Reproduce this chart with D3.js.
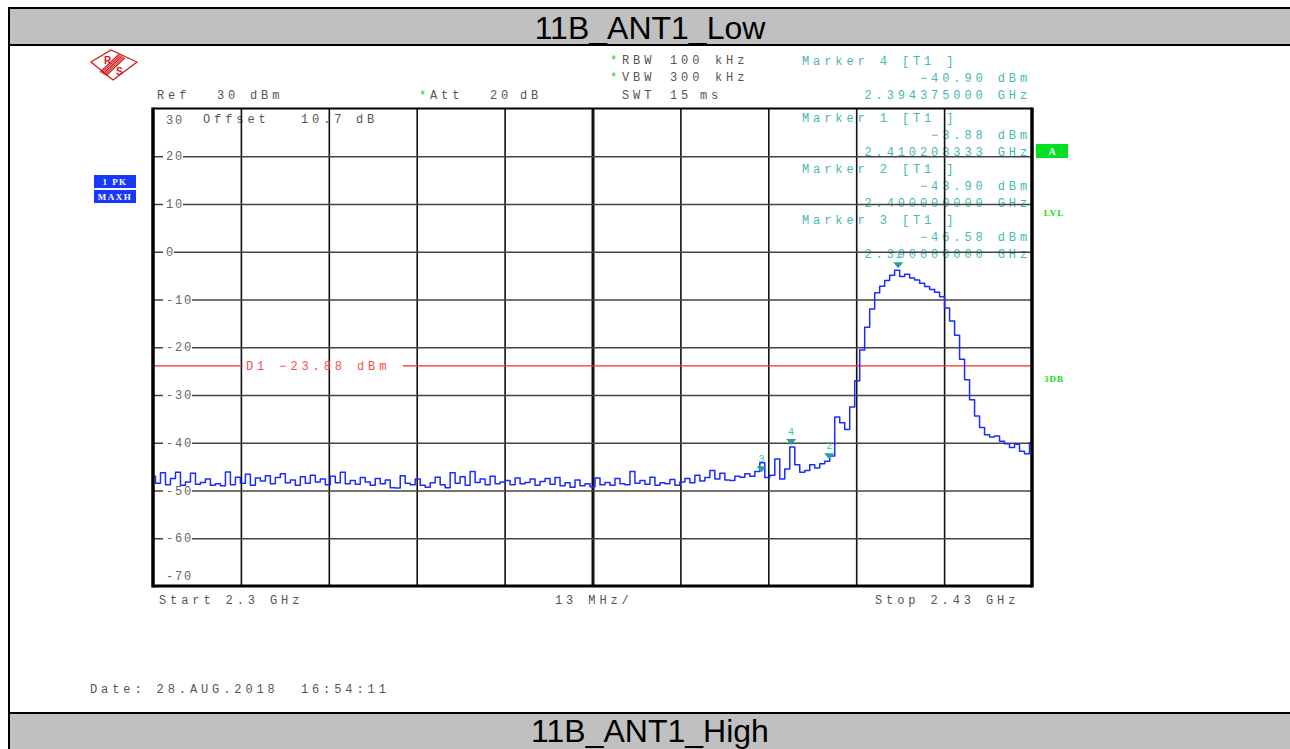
<!DOCTYPE html>
<html><head><meta charset="utf-8">
<script src="https://cdn.jsdelivr.net/npm/d3@7"></script>
<style>
body{margin:0;background:#fff;}
svg{display:block;}
.mono{font-family:'Liberation Mono','DejaVu Sans Mono',monospace;font-size:12px;letter-spacing:3.9px;}
.tick{font-family:'Liberation Mono','DejaVu Sans Mono',monospace;font-size:12px;letter-spacing:1.8px;fill:#666;}
.title{font-family:'Liberation Sans',Arial,sans-serif;font-size:32px;fill:#000;}
</style></head><body>
<svg id="c" width="1290" height="749"></svg>
<script>
// ---------------- data ----------------
const titleTop = "11B_ANT1_Low";
const titleBottom = "11B_ANT1_High";
const freqStartGHz = 2.3;
const freqStopGHz = 2.43;
const spanPerDivMHz = 13;
const refLevelDbm = 30;
const bottomLevelDbm = -70;
const yTickValues = [30, 20, 10, 0, -10, -20, -30, -40, -50, -60, -70];
const d1LevelDbm = -23.88;
const traceLevels = [
 -47.0,-48.5,-46.3,-48.8,-47.5,-46.2,-48.9,-48.2,-46.4,-48.7,
 -48.3,-47.6,-48.9,-48.6,-49.0,-46.1,-48.8,-47.2,-48.5,-46.6,
 -48.9,-47.4,-48.0,-46.9,-48.6,-47.3,-46.5,-48.4,-47.8,-48.9,
 -47.1,-48.5,-46.8,-48.2,-47.6,-48.8,-47.0,-48.4,-46.2,-48.6,
 -47.9,-48.7,-47.3,-48.2,-48.9,-47.5,-48.6,-47.8,-49.4,-49.5,
 -46.9,-48.5,-48.8,-47.6,-48.9,-49.3,-48.4,-47.2,-48.8,-49.4,
 -46.3,-48.5,-47.1,-48.9,-46.0,-48.3,-47.6,-48.8,-47.0,-48.6,
 -48.2,-47.9,-48.8,-47.4,-48.6,-48.3,-47.6,-48.9,-48.1,-47.5,
 -48.7,-47.3,-49.0,-48.4,-49.3,-47.8,-49.0,-48.6,-49.2,-47.4,
 -48.8,-48.3,-48.9,-47.5,-48.6,-48.8,-46.0,-48.5,-47.9,-48.7,
 -47.2,-48.9,-48.4,-48.6,-47.7,-48.9,-48.2,-47.5,-48.4,-46.8,
 -48.0,-47.3,-45.8,-47.6,-46.4,-47.8,-47.9,-47.0,
 -47.2,-46.5,-47.0,-46.0,-44.2,-47.3,-46.8,-43.4,-47.6,-45.5,
 -40.9,-44.6,-46.2,-45.8,-44.6,-45.3,-44.4,-43.9,-42.8,-34.6,
 -35.8,-37.2,-32.5,-27.0,-20.6,-15.8,-12.0,-8.6,-7.2,-6.0,
 -4.9,-3.9,-5.2,-4.7,-5.5,-5.9,-6.6,-7.3,-7.9,-8.5,
 -9.4,-11.8,-14.5,-17.5,-22.5,-26.8,-31.0,-34.4,-36.8,-38.3,
 -38.8,-38.6,-39.7,-40.2,-41.0,-40.3,-41.8,-42.3,-40.0
];
const markerIds = [1, 2, 3, 4];
const markerFreqGHz = [2.410208333, 2.400000000, 2.390000000, 2.394375000];
const markerLevels = [-3.88, -43.90, -46.58, -40.90];
const markerTableOrder = [4, 1, 2, 3];

// ---------------- layout ----------------
const svg = d3.select("#c");
const P = {l:153, r:1032, t:108.5, b:586};
const x = d3.scaleLinear().domain([freqStartGHz, freqStopGHz]).range([P.l, P.r]);
const y = d3.scaleLinear().domain([refLevelDbm, bottomLevelDbm]).range([P.t, P.b]);
const teal = "#45b8b2", gray = "#555", green = "#10d010", red = "#ff2a2a", blue = "#1a2cff";

svg.append("rect").attr("width",1290).attr("height",749).attr("fill","#fff");

// title bars
svg.append("rect").attr("x",9).attr("y",8).attr("width",1285).attr("height",37)
  .attr("fill","#c0c0c0").attr("stroke","#000").attr("stroke-width",2);
svg.append("text").attr("class","title").attr("x",650).attr("y",39).attr("text-anchor","middle").text(titleTop);
svg.append("rect").attr("x",9).attr("y",713).attr("width",1285).attr("height",45)
  .attr("fill","#c0c0c0").attr("stroke","#000").attr("stroke-width",2);
svg.append("text").attr("class","title").attr("x",650).attr("y",742).attr("text-anchor","middle").text(titleBottom);
svg.append("line").attr("x1",9).attr("x2",9).attr("y1",45).attr("y2",713).attr("stroke","#000").attr("stroke-width",2);

// R&S logo
const logo = svg.append("g").attr("stroke","#d01818").attr("fill","none").attr("stroke-width",1.2);
logo.append("polygon").attr("points","91,62 111,50 137,62 113,80");
[-3,-1.5,0,1.5,3].forEach(d=>{
  logo.append("line").attr("x1",103+d).attr("y1",74+d*0.6).attr("x2",122+d).attr("y2",56+d*0.6);
});
svg.append("text").attr("x",104).attr("y",64).attr("fill","#d01818").attr("font-family","Liberation Sans").attr("font-weight","bold").attr("font-size",10).text("R");
svg.append("text").attr("x",116).attr("y",75).attr("fill","#d01818").attr("font-family","Liberation Sans").attr("font-weight","bold").attr("font-size",10).text("S");

// header texts
function mt(xp, yc, s, color, anchor){
  return svg.append("text").attr("class","mono").attr("x",xp).attr("y",yc+4)
    .attr("fill",color||gray).attr("text-anchor",anchor||"start").attr("xml:space","preserve").text(s);
}
mt(157,95,"Ref"); mt(217,95,"30"); mt(250,95,"dBm");
mt(419,95,"*",green); mt(430,95,"Att"); mt(490,95,"20"); mt(520,95,"dB");
mt(610,60,"*",green); mt(622,60,"RBW"); mt(670,60,"100"); mt(715,60,"kHz");
mt(610,77,"*",green); mt(622,77,"VBW"); mt(670,77,"300"); mt(715,77,"kHz");
mt(622,95,"SWT"); mt(670,95,"15"); mt(700,95,"ms");

// left info boxes
[["1 PK",175],["MAXH",190]].forEach(([s,yy])=>{
  svg.append("rect").attr("x",94).attr("y",yy).attr("width",42).attr("height",13).attr("fill","#1838ff");
  svg.append("text").attr("x",115).attr("y",yy+10).attr("text-anchor","middle").attr("fill","#fff")
    .attr("font-family","Liberation Serif").attr("font-weight","bold").attr("font-size",9).attr("letter-spacing",1.5)
    .attr("xml:space","preserve").text(s);
});
// right labels
svg.append("rect").attr("x",1036).attr("y",144).attr("width",32).attr("height",14).attr("fill","#00e020");
svg.append("text").attr("x",1052).attr("y",155).attr("text-anchor","middle").attr("fill","#fff")
  .attr("font-family","Liberation Serif").attr("font-weight","bold").attr("font-size",10).text("A");
[["LVL",212],["3DB",378]].forEach(([s,yy])=>{
  svg.append("text").attr("x",1054).attr("y",yy+4).attr("text-anchor","middle").attr("fill","#10e010")
    .attr("font-family","Liberation Serif").attr("font-weight","bold").attr("font-size",9).attr("letter-spacing",1)
    .text(s);
});

// inside top-left text
mt(203,119,"Offset"); mt(301,119,"10.7"); mt(356,119,"dB");

// marker table
const tableStart = [61,118,169,220];
const fmtL = d3.format(".2f"), fmtF = d3.format(".9f");
markerTableOrder.forEach((id,j)=>{
  const k = markerIds.indexOf(id);
  const y0 = tableStart[j];
  mt(802,y0,`Marker ${id} [T1 ]`,teal);
  mt(1031,y0+17,`${fmtL(markerLevels[k])} dBm`,teal,"end");
  mt(1031,y0+34,`${fmtF(markerFreqGHz[k])} GHz`,teal,"end");
});

// grid
const gridFreqs = d3.range(1,10).map(k=>freqStartGHz + k*spanPerDivMHz/1000);
const gx = svg.append("g").attr("transform",`translate(0,${P.b})`)
  .call(d3.axisBottom(x).tickValues(gridFreqs).tickSize(-(P.b-P.t)).tickFormat(""));
gx.select(".domain").remove();
gx.selectAll(".tick line").attr("stroke","#111").attr("stroke-width",1.6);
gx.selectAll(".tick line").filter(d=>Math.abs(d-2.365)<1e-6).attr("stroke-width",3);

const innerTicks = yTickValues.filter(v=>v<refLevelDbm && v>bottomLevelDbm);
const gy = svg.append("g").attr("transform",`translate(${P.l},0)`)
  .call(d3.axisLeft(y).tickValues(innerTicks).tickSize(-(P.r-P.l)).tickFormat(""));
gy.select(".domain").remove();
gy.selectAll(".tick line").attr("stroke","#444").attr("stroke-width",1.6);

// tick labels
yTickValues.forEach(v=>{
  let yy = y(v);
  if (v===refLevelDbm) yy += 11;
  if (v===bottomLevelDbm) yy -= 10;
  const w = String(v).length*9;
  if (v<refLevelDbm && v>bottomLevelDbm)
    svg.append("rect").attr("x",163).attr("y",yy-3).attr("width",w+2).attr("height",6).attr("fill","#fff");
  svg.append("text").attr("class","tick").attr("x",166).attr("y",yy+4).text(String(v));
});

// D1 line
const d1y = y(d1LevelDbm);
svg.append("line").attr("x1",P.l).attr("x2",243).attr("y1",d1y).attr("y2",d1y).attr("stroke",red).attr("stroke-width",1.2);
svg.append("line").attr("x1",403).attr("x2",P.r).attr("y1",d1y).attr("y2",d1y).attr("stroke",red).attr("stroke-width",1.2);
mt(246,366,`D1 ${fmtL(d1LevelDbm)} dBm`,"#ff4a4a");

// trace
const n = traceLevels.length;
const traceData = traceLevels.map((v,i)=>({f: freqStartGHz + i*(freqStopGHz-freqStartGHz)/(n-1), v}));
svg.append("path").datum(traceData)
  .attr("d", d3.line().x(d=>x(d.f)).y(d=>y(d.v)).curve(d3.curveStep))
  .attr("fill","none").attr("stroke",blue).attr("stroke-width",1.5).attr("stroke-linejoin","round");

// markers
markerIds.forEach((id,k)=>{
  const mx = x(markerFreqGHz[k]), my = y(markerLevels[k]);
  svg.append("polygon").attr("points",`${mx-5},${my-8} ${mx+5},${my-8} ${mx},${my-2}`).attr("fill","#20a0a0");
  svg.append("text").attr("x",mx).attr("y",my-12).attr("text-anchor","middle").attr("fill",teal)
    .attr("font-family","Liberation Mono").attr("font-size",10).text(id);
});

// plot frame
svg.append("line").attr("x1",P.l).attr("x2",P.l).attr("y1",P.t-1).attr("y2",P.b+1.5).attr("stroke","#000").attr("stroke-width",3.5);
svg.append("line").attr("x1",P.r).attr("x2",P.r).attr("y1",P.t-1).attr("y2",P.b+1.5).attr("stroke","#000").attr("stroke-width",3.5);
svg.append("line").attr("x1",P.l).attr("x2",P.r).attr("y1",P.t).attr("y2",P.t).attr("stroke","#000").attr("stroke-width",2.2);
svg.append("line").attr("x1",P.l).attr("x2",P.r).attr("y1",P.b).attr("y2",P.b).attr("stroke","#000").attr("stroke-width",3);

// bottom texts
mt(159,600,`Start ${freqStartGHz} GHz`);
mt(555,600,`${spanPerDivMHz} MHz/`);
mt(875,600,`Stop ${freqStopGHz} GHz`);
mt(90,689,"Date: 28.AUG.2018  16:54:11");
</script></body></html>
